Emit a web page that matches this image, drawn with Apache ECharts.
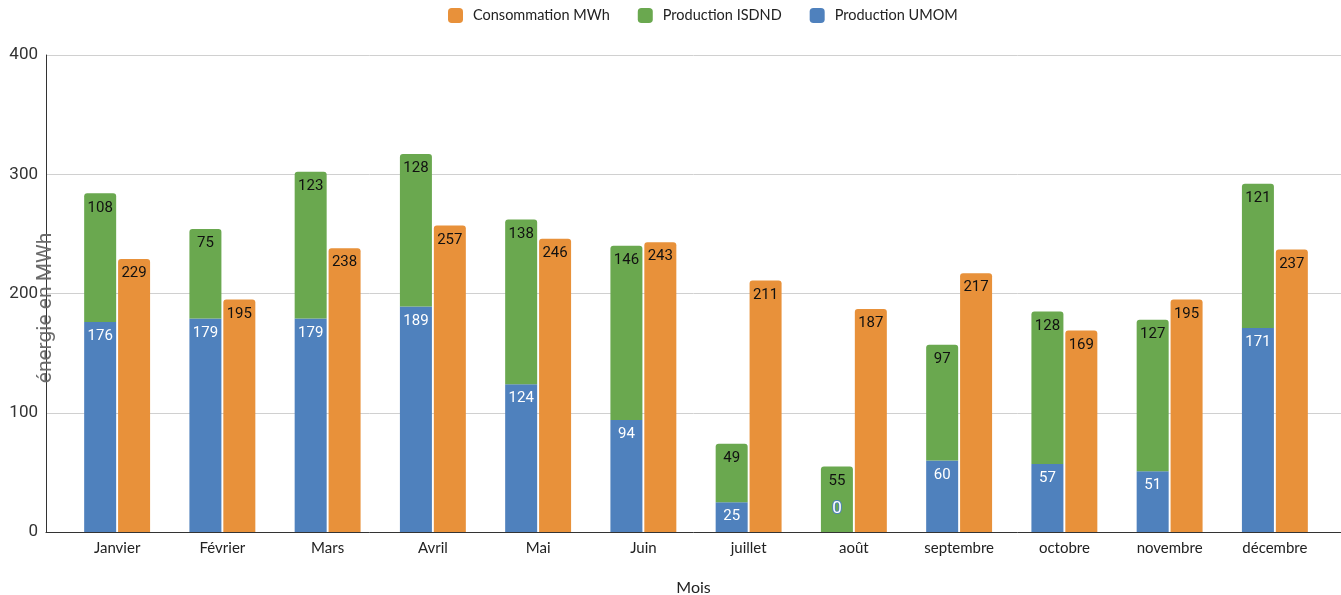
<!DOCTYPE html>
<html><head><meta charset="utf-8">
<script src="https://cdn.jsdelivr.net/npm/echarts@6/dist/echarts.min.js"></script>
<style>html,body{margin:0;padding:0;background:#fff}#c{width:1341px;height:595px}</style>
</head><body><div id="c"></div>
<script>
const months = ['Janvier','Février','Mars','Avril','Mai','Juin','juillet','août','septembre','octobre','novembre','décembre'];
const umom = [176,179,179,189,124,94,25,0,60,57,51,171];
const isdnd = [108,75,123,128,138,146,49,55,97,128,127,121];
const conso = [229,195,238,257,246,243,211,187,217,169,195,237];
const yTicks = [0,100,200,300,400];

const C_ORANGE = '#E8913A', C_GREEN = '#6AA84F', C_BLUE = '#4F81BD';
const chart = echarts.init(document.getElementById('c'));
const lbl = (color) => ({show:true, position:'insideTop', distance:7, color:color, fontFamily:'Roboto', fontSize:15});
chart.setOption({
  animation:false,
  legend:{top:3, left:443, itemWidth:15, itemHeight:15, itemGap:28, icon:'roundRect',
    textStyle:{fontFamily:'Lato', fontSize:14.5, color:'#222', padding:[0,0,0,5]},
    data:['Consommation MWh','Production ISDND','Production UMOM']},
  grid:[
    {left:46, right:0, top:55, bottom:63, containLabel:false, outerBoundsMode:'none'},
    {left:64.5, right:13.5, top:55, bottom:63, containLabel:false, outerBoundsMode:'none'}
  ],
  xAxis:[
    {gridIndex:0, type:'category', data:[''], axisLine:{lineStyle:{color:'#333', width:1}}, axisTick:{show:false}, axisLabel:{show:false},
     name:'Mois', nameLocation:'middle', nameGap:48, nameTextStyle:{fontFamily:'Lato', fontSize:16, color:'#222'}},
    {gridIndex:1, type:'category', data:months, axisLine:{show:false}, axisTick:{show:false},
     axisLabel:{margin:9, fontFamily:'Lato', fontSize:15, color:'#222'}}
  ],
  yAxis:[
    {gridIndex:0, type:'value', min:yTicks[0], max:yTicks[yTicks.length-1], interval:100,
     axisLine:{show:true, lineStyle:{color:'#333', width:1}}, axisTick:{show:false},
     axisLabel:{margin:8, fontFamily:'Roboto', fontSize:17, color:'#333'},
     splitLine:{lineStyle:{color:'#d0d0d0', width:1}}},
    {gridIndex:1, type:'value', min:0, max:400, interval:100, show:false, splitLine:{show:false}}
  ],
  graphic:[
    {type:'text', x:46, y:308, rotation:Math.PI/2, z:100,
     style:{text:'énergie en MWh', fontFamily:'Roboto', fontSize:21, fill:'#6b6b6b', align:'center', verticalAlign:'middle'}}
  ],
  series:[
    {name:'Production UMOM', type:'bar', stack:'prod', xAxisIndex:1, yAxisIndex:1, barWidth:32, barGap:'6%',
     itemStyle:{color:C_BLUE}, label:lbl('#fff'),
     data: umom.map(v => v === 0 ? {value:v, label:{position:'insideBottom', offset:[0,-8], fontSize:17, color:'#fff', textBorderColor:C_BLUE, textBorderWidth:2}} : v)},
    {name:'Production ISDND', type:'bar', stack:'prod', xAxisIndex:1, yAxisIndex:1, barWidth:32,
     itemStyle:{color:C_GREEN, borderRadius:[3,3,0,0]}, label:lbl('#111'), data:isdnd},
    {name:'Consommation MWh', type:'bar', xAxisIndex:1, yAxisIndex:1, barWidth:32, barGap:'6%',
     itemStyle:{color:C_ORANGE, borderRadius:[3,3,0,0]}, label:lbl('#111'), data:conso}
  ]
});
</script></body></html>
